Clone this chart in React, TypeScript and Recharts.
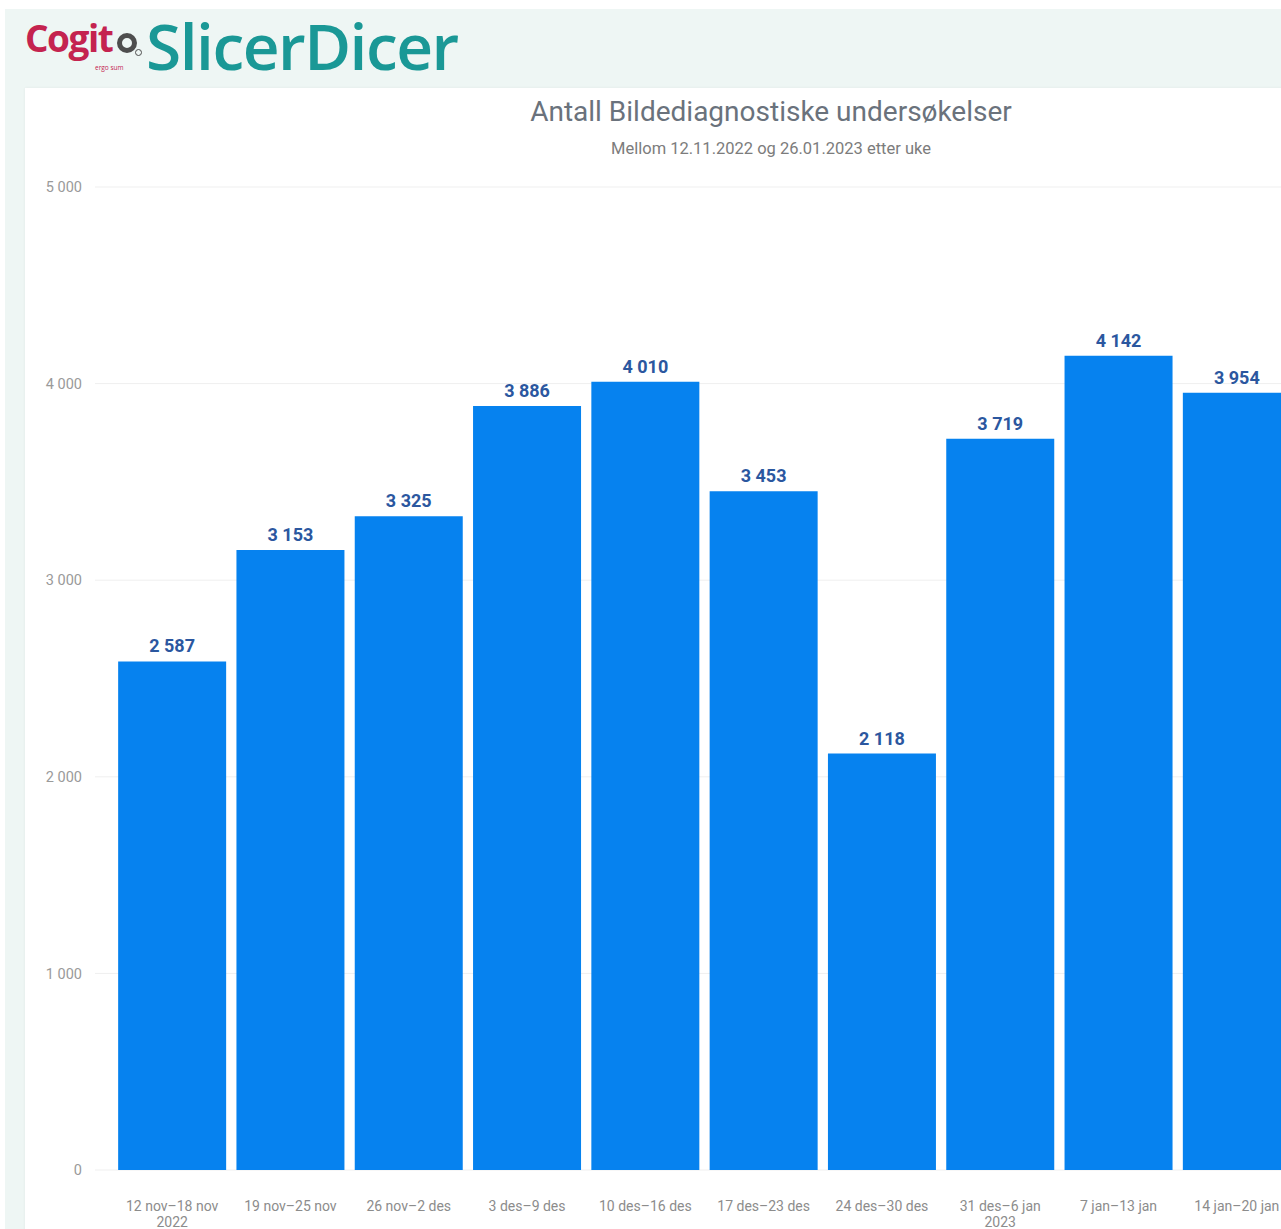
import React from "react";
import { BarChart, Bar, XAxis, YAxis, CartesianGrid, LabelList } from "recharts";

const categories = [
  "12 nov–18 nov\n2022",
  "19 nov–25 nov",
  "26 nov–2 des",
  "3 des–9 des",
  "10 des–16 des",
  "17 des–23 des",
  "24 des–30 des",
  "31 des–6 jan\n2023",
  "7 jan–13 jan",
  "14 jan–20 jan",
];
const counts = [2587, 3153, 3325, 3886, 4010, 3453, 2118, 3719, 4142, 3954];
const yTicks = [0, 1000, 2000, 3000, 4000, 5000];

const data = categories.map((c, i) => ({ week: c, value: counts[i] }));

const fmt = (v: number) => String(v).replace(/\B(?=(\d{3})+(?!\d))/g, "\u00a0");

const XTick = (props: any) => {
  const { x, y, payload } = props;
  const lines = String(payload.value).split("\n");
  return (
    <text x={x} y={y + 41} textAnchor="middle" fill="#8c8c8c" fontSize={14} fontFamily="Roboto">
      {lines.map((l: string, i: number) => (
        <tspan key={i} x={x} dy={i === 0 ? 0 : 16}>
          {l}
        </tspan>
      ))}
    </text>
  );
};

export default function App() {
  return (
    <div
      style={{
        position: "absolute",
        left: 0,
        top: 0,
        width: 1281,
        height: 1229,
        overflow: "hidden",
        background: "#ffffff",
        fontFamily: "Roboto",
      }}
    >
      {/* header band */}
      <div style={{ position: "absolute", left: 5, top: 9, width: 1276, height: 80, background: "#eef6f4" }} />
      <div style={{ position: "absolute", left: 5, top: 9, width: 20, height: 1220, background: "#eef6f4" }} />
      {/* logo */}
      <div
        style={{
          position: "absolute",
          left: 25,
          top: 20,
          fontFamily: "Open Sans",
          fontWeight: 700,
          fontSize: 37,
          color: "#c4234f",
          letterSpacing: -1.5,
          lineHeight: "36px",
        }}
      >
        Cogit
      </div>
      <div
        style={{
          position: "absolute",
          left: 117,
          top: 33,
          width: 20,
          height: 20,
          borderRadius: 10,
          border: "5px solid #4e4e4e",
          boxSizing: "border-box",
        }}
      />
      <div
        style={{
          position: "absolute",
          left: 135,
          top: 49,
          width: 7,
          height: 7,
          borderRadius: 4,
          border: "1.5px solid #4e4e4e",
          boxSizing: "border-box",
        }}
      />
      <div
        style={{
          position: "absolute",
          left: 95,
          top: 64,
          fontSize: 6.5,
          lineHeight: "7px",
          color: "#c4234f",
          fontFamily: "Open Sans",
        }}
      >
        ergo sum
      </div>
      <div
        style={{
          position: "absolute",
          left: 146,
          top: 4,
          fontFamily: "Open Sans",
          fontWeight: 600,
          fontSize: 64,
          color: "#1a9896",
          letterSpacing: -1.5,
          lineHeight: "84px",
        }}
      >
        SlicerDicer
      </div>
      {/* white panel */}
      <div
        style={{
          position: "absolute",
          left: 25,
          top: 88,
          width: 1300,
          height: 1200,
          background: "#ffffff",
          boxShadow: "0 0 3px rgba(0,0,0,0.06)",
        }}
      />
      {/* titles */}
      <div
        style={{
          position: "absolute",
          left: 271,
          width: 1000,
          top: 94,
          textAlign: "center",
          fontSize: 28,
          color: "#6a727c",
          lineHeight: "36px",
        }}
      >
        Antall Bildediagnostiske undersøkelser
      </div>
      <div
        style={{
          position: "absolute",
          left: 271,
          width: 1000,
          top: 139,
          textAlign: "center",
          fontSize: 16.5,
          color: "#7c7c7c",
          lineHeight: "20px",
        }}
      >
        Mellom 12.11.2022 og 26.01.2023 etter uke
      </div>
      <div style={{ position: "absolute", left: 25, top: 88 }}>
        <BarChart
          width={1289}
          height={1142}
          data={data}
          margin={{ top: 99, right: 0, bottom: 0, left: 0 }}
          barCategoryGap="4.35%"
        >
          <CartesianGrid vertical={false} stroke="#efefef" />
          <XAxis
            dataKey="week"
            axisLine={false}
            tickLine={false}
            tickSize={0}
            tickMargin={0}
            height={60}
            interval={0}
            padding={{ left: 18, right: 18 }}
            tick={<XTick />}
          />
          <YAxis
            width={70}
            domain={[0, 5000]}
            ticks={yTicks}
            axisLine={false}
            tickLine={false}
            tickSize={0}
            tickMargin={13}
            tickFormatter={fmt}
            tick={{ fill: "#9a9a9a", fontSize: 14.5, fontFamily: "Roboto" }}
          />
          <Bar dataKey="value" fill="#0682ef" isAnimationActive={false}>
            <LabelList
              dataKey="value"
              position="top"
              offset={9}
              formatter={(v: any) => fmt(Number(v))}
              style={{ fill: "#2b579f", fontSize: 18, fontWeight: 700, fontFamily: "Roboto" }}
            />
          </Bar>
        </BarChart>
      </div>
    </div>
  );
}
